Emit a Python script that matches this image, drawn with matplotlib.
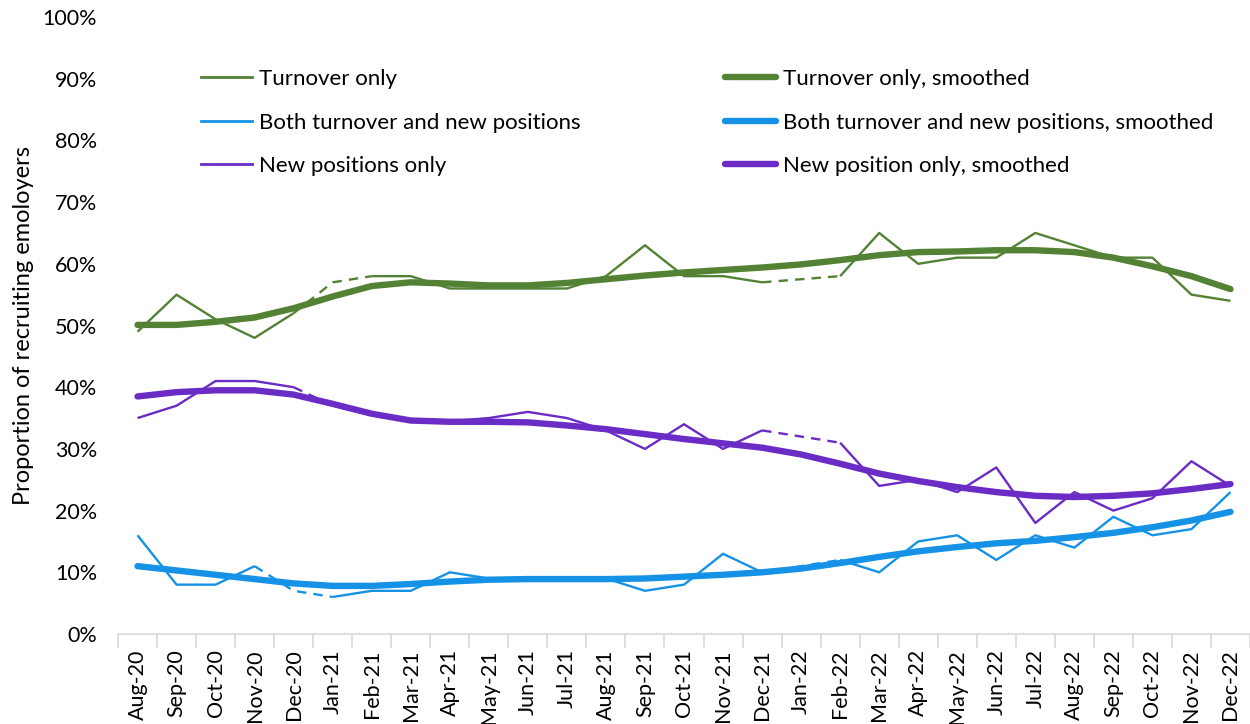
import numpy as np
import matplotlib
matplotlib.use("Agg")
import matplotlib.pyplot as plt
from matplotlib.ticker import PercentFormatter

plt.rcParams['font.family'] = ['Lato', 'DejaVu Sans']

# Months on the x axis
months = ['Aug-20', 'Sep-20', 'Oct-20', 'Nov-20', 'Dec-20', 'Jan-21', 'Feb-21', 'Mar-21',
          'Apr-21', 'May-21', 'Jun-21', 'Jul-21', 'Aug-21', 'Sep-21', 'Oct-21', 'Nov-21',
          'Dec-21', 'Jan-22', 'Feb-22', 'Mar-22', 'Apr-22', 'May-22', 'Jun-22', 'Jul-22',
          'Aug-22', 'Sep-22', 'Oct-22', 'Nov-22', 'Dec-22']

# Monthly shares (%)
turnover = [49, 55, 51, 48, 52, 57, 58, 58, 56, 56, 56, 56, 58, 63, 58, 58,
            57, 57.5, 58, 65, 60, 61, 61, 65, 63, 61, 61, 55, 54]
both = [16, 8, 8, 11, 7, 6, 7, 7, 10, 9, 9, 9, 9, 7, 8, 13,
        10, 11, 12, 10, 15, 16, 12, 16, 14, 19, 16, 17, 23]
new_pos = [35, 37, 41, 41, 40, 37, 35.5, 34.5, 34.5, 35, 36, 35, 33, 30, 34, 30,
           33, 32, 31, 24, 25, 23, 27, 18, 23, 20, 22, 28, 24]

# Smoothed series (%)
turnover_s = [50.1, 50.1, 50.6, 51.3, 52.8, 54.7, 56.4, 57.0, 56.8, 56.5, 56.5, 56.9, 57.5, 58.1,
              58.6, 59.0, 59.4, 59.9, 60.6, 61.4, 61.9, 62.0, 62.2, 62.2, 61.9, 61.0, 59.6, 58.0, 55.9]
both_s = [11.0, 10.3, 9.6, 8.9, 8.2, 7.8, 7.8, 8.1, 8.5, 8.8, 8.9, 8.9, 8.9, 9.0,
          9.3, 9.6, 10.0, 10.6, 11.5, 12.5, 13.4, 14.1, 14.7, 15.1, 15.7, 16.4, 17.3, 18.4, 19.8]
new_pos_s = [38.5, 39.2, 39.5, 39.5, 38.8, 37.3, 35.7, 34.6, 34.4, 34.4, 34.3, 33.8, 33.2, 32.4,
             31.6, 30.9, 30.2, 29.1, 27.6, 26.0, 24.8, 23.8, 23.0, 22.4, 22.2, 22.4, 22.8, 23.5, 24.3]

# segments (start index) drawn dashed in the raw series
turnover_dash = [4, 5, 16, 17]
both_dash = [3, 4, 16, 17]
new_pos_dash = [4, 5, 16, 17]

green = '#548235'
blue = '#1592E6'
purple = '#6A2CC4'

x = np.arange(len(months))

fig = plt.figure(figsize=(12.5, 7.24), dpi=100)
ax = fig.add_axes([0.0944, 0.1243, 0.9056, 0.8522])


def draw_raw(vals, dashed, color, label):
    vals = np.array(vals) / 100
    # group consecutive segments of the same style
    groups = []
    for i in range(len(vals) - 1):
        style = '--' if i in dashed else '-'
        if groups and groups[-1][0] == style:
            groups[-1][1].append(i + 1)
        else:
            groups.append((style, [i, i + 1]))
    for style, idx in groups:
        ax.plot(x[idx], vals[idx], color=color, lw=1.7, ls=style,
                dashes=(4, 3) if style == '--' else (None, None),
                solid_capstyle='butt', zorder=2)
    return ax.plot([], [], color=color, lw=2, label=label)[0]


h1 = draw_raw(turnover, turnover_dash, green, 'Turnover only')
h2 = draw_raw(both, both_dash, blue, 'Both turnover and new positions')
h3 = draw_raw(new_pos, new_pos_dash, purple, 'New positions only')

h4, = ax.plot(x, np.array(turnover_s) / 100, color=green, lw=4.6,
              solid_capstyle='round', label='Turnover only, smoothed', zorder=3)
h5, = ax.plot(x, np.array(both_s) / 100, color=blue, lw=4.6,
              solid_capstyle='round', label='Both turnover and new positions, smoothed', zorder=3)
h6, = ax.plot(x, np.array(new_pos_s) / 100, color=purple, lw=4.6,
              solid_capstyle='round', label='New position only, smoothed', zorder=3)

ax.set_xlim(-0.5, len(months) - 0.5)
ax.set_ylim(0, 1)
ax.set_yticks(np.arange(0, 1.01, 0.1))
ax.yaxis.set_major_formatter(PercentFormatter(1.0, decimals=0))
ax.tick_params(axis='y', length=0, pad=15, labelsize=15.5)

ax.set_xticks(x)
ax.set_xticklabels(months, rotation=90, fontsize=15.5)
ax.set_xticks(np.arange(-0.5, len(months), 1), minor=True)
ax.tick_params(axis='x', which='major', length=0, pad=11)
ax.tick_params(axis='x', which='minor', length=10, color='#d9d9d9', width=1.2)

for s in ['top', 'right', 'left']:
    ax.spines[s].set_visible(False)
ax.spines['bottom'].set_color('#d9d9d9')
ax.spines['bottom'].set_linewidth(1.2)

ax.set_ylabel('Proportion of recruiting emoloyers', fontsize=17, labelpad=6)

ax.legend(handles=[h1, h2, h3, h4, h5, h6], ncol=2, frameon=False,
          loc='upper left', bbox_to_anchor=(0.145, 0.932), bbox_transform=fig.transFigure,
          fontsize=16, handlelength=2.3, handletextpad=0.3, labelspacing=1.05,
          columnspacing=6.5)

fig.savefig('out.png', dpi=100)
